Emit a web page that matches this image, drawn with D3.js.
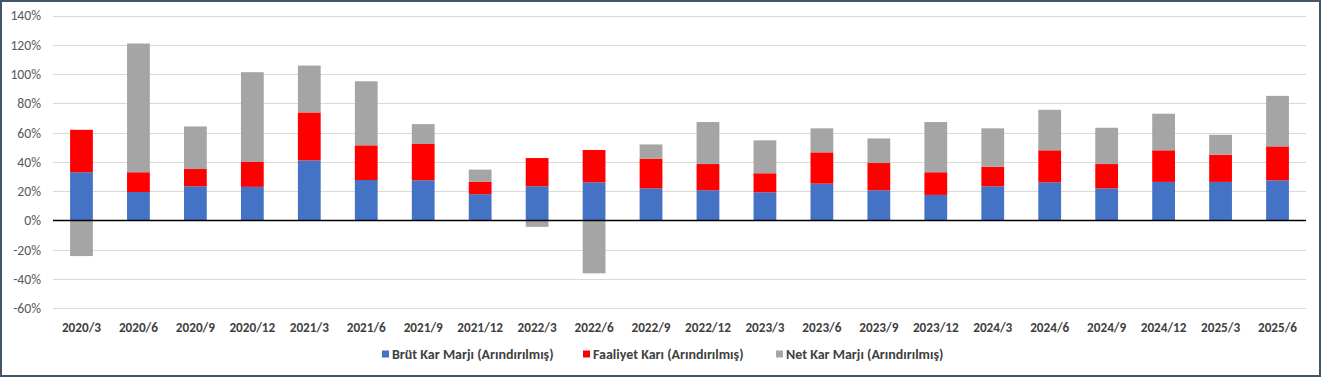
<!DOCTYPE html>
<html><head><meta charset="utf-8">
<script src="https://cdn.jsdelivr.net/npm/d3@7"></script>
<style>html,body{margin:0;padding:0;background:#fff;}svg{display:block;}</style>
</head><body>
<script>
const categories = ["2020/3","2020/6","2020/9","2020/12","2021/3","2021/6","2021/9","2021/12","2022/3","2022/6","2022/9","2022/12","2023/3","2023/6","2023/9","2023/12","2024/3","2024/6","2024/9","2024/12","2025/3","2025/6"];
const brut    = [33, 19.5, 23.4, 23, 41.1, 27.7, 27.5, 18, 23.4, 26.1, 22, 20.7, 19.3, 25.2, 20.7, 17.5, 23.4, 26.1, 22, 26.4, 26.4, 27.5];
const faaliyet= [29, 13.5, 11.8, 17, 32.8, 23.7, 24.8, 8.4, 19.3, 22.1, 20.3, 17.9, 13, 21.4, 18.6, 15.5, 13.4, 21.9, 16.6, 21.6, 18.6, 23.2];
const net     = [-24.3, 88, 29.1, 61.4, 32, 43.8, 13.6, 8.4, -4.3, -36.1, 9.7, 28.7, 22.5, 16.4, 16.8, 34.3, 26.2, 27.7, 24.8, 25, 13.6, 34.5];
const yTicks = [-60,-40,-20,0,20,40,60,80,100,120,140];
const seriesNames = ["Brüt Kar Marjı (Arındırılmış)","Faaliyet Karı (Arındırılmış)","Net Kar Marjı (Arındırılmış)"];
const colors = ["#4472C4","#FF0000","#A5A5A5"];

const W = 1321, H = 377;
const svg = d3.select("body").append("svg").attr("width", W).attr("height", H);
svg.append("rect").attr("x",1).attr("y",1).attr("width",W-2).attr("height",H-2)
  .attr("fill","#fff").attr("stroke","#44546A").attr("stroke-width",2);

const x = d3.scaleBand().domain(categories).range([53, 1306]).paddingInner(0.6).paddingOuter(0.3);
const y = d3.scaleLinear().domain([-60, 140]).range([308.3, 15.7]);

const font = "Carlito, Calibri, 'Liberation Sans Narrow', Roboto, sans-serif";

// gridlines
svg.append("g").selectAll("line").data(yTicks.filter(t => t !== 0)).join("line")
  .attr("x1", 53).attr("x2", 1306)
  .attr("y1", d => Math.round(y(d)) + 0.5).attr("y2", d => Math.round(y(d)) + 0.5)
  .attr("stroke", "#d9d9d9").attr("stroke-width", 1);

// y labels
svg.append("g").selectAll("text").data(yTicks).join("text")
  .attr("x", 41).attr("y", d => y(d)).attr("dy","0.35em")
  .attr("text-anchor","end").attr("font-family", font).attr("font-size", 13.7)
  .attr("fill","#595959").text(d => d + "%");

// stack
const rows = categories.map((c, i) => ({cat: c, s0: brut[i], s1: faaliyet[i], s2: net[i]}));
const stack = d3.stack().keys(["s0","s1","s2"]).offset(d3.stackOffsetDiverging);
const layers = stack(rows);

svg.append("g").selectAll("g").data(layers).join("g")
  .attr("fill", (d, i) => colors[i])
  .selectAll("rect").data(d => d).join("rect")
  .attr("x", d => x(d.data.cat))
  .attr("width", x.bandwidth())
  .attr("y", d => y(Math.max(d[0], d[1])))
  .attr("height", d => Math.abs(y(d[0]) - y(d[1])));

// zero line
svg.append("line").attr("x1", 53).attr("x2", 1306)
  .attr("y1", y(0)).attr("y2", y(0)).attr("stroke", "#000").attr("stroke-width", 1.5);

// x labels
svg.append("g").selectAll("text").data(categories).join("text")
  .attr("x", d => x(d) + x.bandwidth()/2).attr("y", 327).attr("dy","0.35em")
  .attr("text-anchor","middle").attr("font-family", font).attr("font-size", 13.2)
  .attr("font-weight","bold").attr("fill","#404040").text(d => d);

// legend
const legendX = [382, 583, 776];
const lg = svg.append("g").selectAll("g").data(seriesNames).join("g")
  .attr("transform", (d, i) => `translate(${legendX[i]},354)`);
lg.append("rect").attr("x",0).attr("y",-3.5).attr("width",7).attr("height",7).attr("fill",(d,i)=>colors[i]);
lg.append("text").attr("x",10).attr("y",0).attr("dy","0.35em")
  .attr("font-family", font).attr("font-size", 14).attr("font-weight","bold")
  .attr("fill","#404040").text(d => d);
</script>
</body></html>
